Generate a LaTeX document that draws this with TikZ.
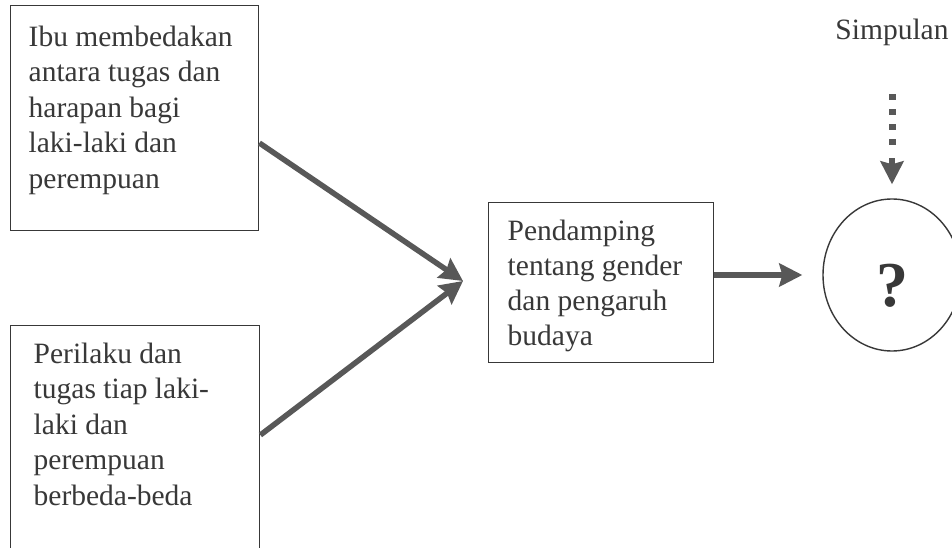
\documentclass[tikz,border=0pt]{standalone}
\usepackage{fontspec}
\setmainfont{Liberation Serif}
\usetikzlibrary{arrows.meta,shapes.geometric}
\definecolor{ink}{HTML}{383838}
\definecolor{arrowgray}{HTML}{585858}
\begin{document}
\begin{tikzpicture}[x=1pt,y=-1pt,
  box/.style={draw=ink, line width=1.4pt, inner sep=0pt, text=ink,
    font=\fontsize{29.5}{35.5}\selectfont},
  tip/.style={-{Stealth[length=23pt,width=23pt,inset=3pt]}},
  thickarrow/.style={draw=arrowgray, fill=arrowgray, line width=5.5pt, tip},
  dotline/.style={draw=arrowgray, line width=7pt, line cap=butt, dash pattern=on 6pt off 9pt},
  lbl/.style={text=ink, font=\fontsize{29.5}{35}\selectfont}
]
\useasboundingbox (0,0) rectangle (952,548);
\fill[white] (0,0) rectangle (952,548);
\clip (0,0) rectangle (952,548);

\node[box, anchor=north west, inner xsep=18pt, inner ysep=20pt] (b1) at (10,5)
  {\parbox[c][185pt][t]{212pt}{\raggedright Ibu membedakan\\ antara tugas dan\\ harapan bagi\\ laki-laki dan\\ perempuan}};

\node[box, anchor=north west, inner xsep=23pt, inner ysep=17pt] (b2) at (10,325)
  {\parbox[c][220pt][t]{203pt}{\raggedright Perilaku dan\\ tugas tiap laki-\\ laki dan\\ perempuan\\ berbeda-beda}};

\node[box, anchor=north west, inner xsep=19pt, inner ysep=0pt,
  font=\fontsize{29.5}{35}\selectfont] (b3) at (488,202)
  {\parbox[c][160pt][c]{187pt}{\vspace*{6pt}\raggedright Pendamping\\ tentang gender\\ dan pengaruh\\ budaya}};

\node[draw=ink, line width=1.4pt, ellipse, minimum width=138pt, minimum height=152pt,
  inner sep=0pt] (c) at (892,275) {};
\node[text=ink, font=\fontsize{64}{64}\selectfont\bfseries] (q) at (892,286) {?};

\node[lbl] (s) at (892,32) {Simpulan};

\coordinate (m) at (463,281);
\draw[thickarrow] (b1.east |- 0,143) -- (m);
\draw[thickarrow] (b2.east |- 0,435) -- (m);
\draw[thickarrow] (b3.east |- c.west) -- ([xshift=-20pt]c.west);

\draw[dotline] ([yshift=104pt]c.north) -- ([yshift=53pt]c.north);
\draw[thickarrow] ([yshift=40pt]c.north) -- ([yshift=14pt]c.north);
\end{tikzpicture}
\end{document}
